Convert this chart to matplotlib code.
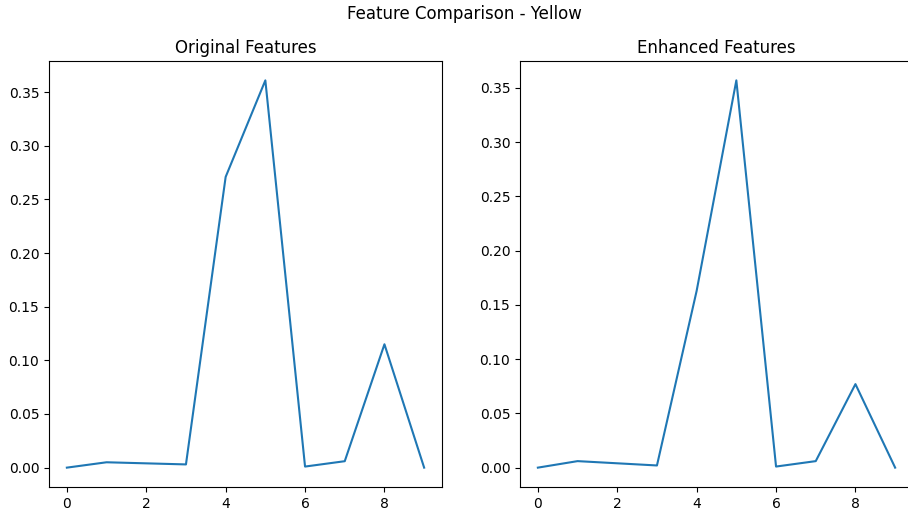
import matplotlib
matplotlib.use('Agg')
import matplotlib.pyplot as plt

# feature index and values
idx = list(range(10))
original = [0.000, 0.005, 0.004, 0.003, 0.271, 0.361, 0.001, 0.006, 0.115, 0.000]
enhanced = [0.000, 0.006, 0.004, 0.002, 0.163, 0.357, 0.001, 0.006, 0.077, 0.000]
titles = ['Original Features', 'Enhanced Features']

W, H = 908, 519
fig = plt.figure(figsize=(W / 100, H / 100), dpi=100)

# axes boxes in pixels (left, top, right, bottom); the right one runs past the edge
boxes = [(49, 61, 442, 487), (520, 61, 913, 487)]
for (l, t, r, b), vals, title in zip(boxes, [original, enhanced], titles):
    ax = fig.add_axes([l / W, 1 - b / H, (r - l) / W, (b - t) / H])
    ax.plot(idx, vals)
    ax.set_title(title)

fig.suptitle('Feature Comparison - Yellow', x=464 / W, y=1 - 14 / H, va='center')
fig.savefig('out.png', dpi=100)
